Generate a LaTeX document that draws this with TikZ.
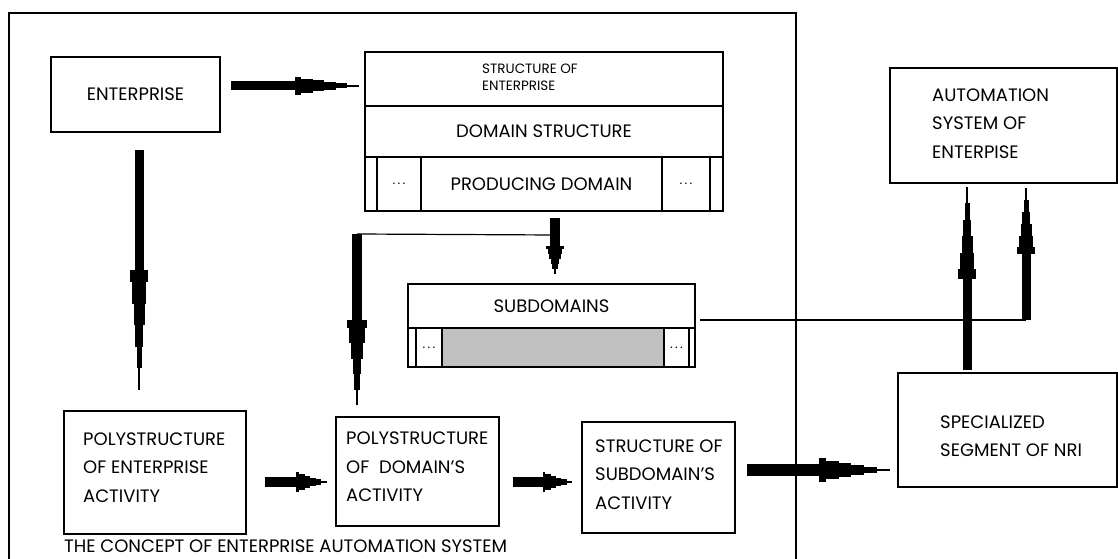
\documentclass[tikz,border=0pt]{standalone}
\usepackage{fontspec}
\setmainfont{Poppins}
\usetikzlibrary{positioning,calc}

% thick stepped arrow: [scale]{from}{to}
\newcommand{\fatarrow}[3][1]{%
  \foreach \s/\e/\w in {0/.5/9,.5/.55/18,.55/.64/14,.64/.73/11,.73/.82/8,.82/.91/5,.91/1/1.5}{%
    \pgfmathsetmacro\lw{#1*\w}
    \draw[line width=\lw pt] ($#2!\s!#3$) -- ($#2!\e!#3$);}%
}

\begin{document}
\begin{tikzpicture}[x=1pt, y=-1pt,
    box/.style = {draw, line width=1.2pt, inner sep=0pt, outer sep=0pt},
    txt/.style = {inner sep=0pt, align=left, font=\fontsize{18}{28.5}\selectfont},
    small/.style = {inner sep=0pt, align=left, font=\fontsize{13.5}{17}\selectfont},
    dots/.style = {font=\fontsize{13}{13}\selectfont}]
  \useasboundingbox (0,0) rectangle (1118,559);
  \clip (0,0) rectangle (1118,559);

  % frame of the concept
  \draw[line width=1.2pt] (9,570) |- (796,13) -- (796,570);
  \node[txt, anchor=west] (cap) at (64,546) {THE CONCEPT OF ENTERPRISE AUTOMATION SYSTEM};

  \node[box, txt, minimum width=169, minimum height=75] (ent) at (135.5,94.5) {ENTERPRISE};

  % structure of enterprise
  \node[box, minimum width=358, minimum height=54] (soe) at (544,79) {};
  \node[small, right=117pt of soe.west, yshift=2pt] (soet) {STRUCTURE OF\\ENTERPRISE};
  \node[box, txt, minimum width=358, minimum height=51] (ds) at (544,131.5) {DOMAIN STRUCTURE};
  \node[box, minimum width=12, minimum height=54] (pl1) at (371,184) {};
  \node[box, dots, minimum width=44, minimum height=54] (pl2) at (399,184) {.\,.\,.};
  \node[box, txt, minimum width=241, minimum height=54] (pd) at (541.5,184) {PRODUCING DOMAIN};
  \node[box, dots, minimum width=48, minimum height=54] (pr2) at (686,184) {.\,.\,.};
  \node[box, minimum width=13, minimum height=54] (pr1) at (716.5,184) {};

  % subdomains
  \node[box, txt, minimum width=287, minimum height=44] (sub) at (551.5,306) {SUBDOMAINS};
  \node[box, minimum width=8, minimum height=39] (sl1) at (412,347.5) {};
  \node[box, dots, minimum width=26, minimum height=39] (sl2) at (429,347.5) {.\,.\,.};
  \node[box, fill={rgb,255:red,192;green,192;blue,192}, minimum width=222, minimum height=39] (sc) at (553,347.5) {};
  \node[box, dots, minimum width=25, minimum height=39] (sr2) at (676.5,347.5) {.\,.\,.};
  \node[box, minimum width=6, minimum height=39] (sr1) at (692,347.5) {};

  % activity boxes
  \node[box, minimum width=182, minimum height=123] (pse) at (155,472.5) {};
  \node[txt, right=19pt of pse.west, yshift=5pt] (pset) {POLYSTRUCTURE\\OF ENTERPRISE\\ACTIVITY};
  \node[box, minimum width=163, minimum height=109] (psd) at (417.5,471.5) {};
  \node[txt, right=10pt of psd.west, yshift=4.5pt] (psdt) {POLYSTRUCTURE\\OF~~DOMAIN'S\\ACTIVITY};
  \node[box, minimum width=153, minimum height=111] (ssa) at (658.5,477.5) {};
  \node[txt, right=13pt of ssa.west, yshift=3pt] (ssat) {STRUCTURE OF\\SUBDOMAIN'S\\ACTIVITY};

  % outside the concept
  \node[box, minimum width=227, minimum height=115] (aut) at (1003.5,125.5) {};
  \node[txt, right=42pt of aut.west, yshift=2pt] (autt) {AUTOMATION\\SYSTEM OF\\ENTERPISE};
  \node[box, minimum width=219, minimum height=114] (nri) at (1007.5,430) {};
  \node[txt, right=42pt of nri.west, yshift=-6pt] (nrit) {SPECIALIZED\\SEGMENT OF NRI};

  % arrow ends
  \coordinate (a1s) at (231,86);   \coordinate (a1e) at (359,86);
  \coordinate (a2s) at (139,150);  \coordinate (a2e) at (139,390);
  \coordinate (a3s) at (555,218);  \coordinate (a3e) at (555,274);
  \coordinate (br) at (555,235);
  \coordinate (a4s) at (357,234);  \coordinate (a4e) at (357,405);
  \coordinate (a5s) at (265,482);  \coordinate (a5e) at (327,482);
  \coordinate (a6s) at (513,482);  \coordinate (a6e) at (572,482);
  \coordinate (a7s) at (747,470);  \coordinate (a7e) at (890,470);
  \coordinate (a8s) at (967,370);  \coordinate (a8e) at (967,187);
  \coordinate (sr) at (700,320);
  \coordinate (a9s) at (1026,320); \coordinate (a9e) at (1026,188);

  \draw[line width=1.2pt] (br) -- (a4s);
  \draw[line width=1.2pt] (sr) -- (a9s);

  \fatarrow{(a1s)}{(a1e)}
  \fatarrow{(a2s)}{(a2e)}
  \fatarrow[1.05]{(a3s)}{(a3e)}
  \fatarrow[1.1]{(a4s)}{(a4e)}
  \fatarrow[1.1]{(a5s)}{(a5e)}
  \fatarrow[1.1]{(a6s)}{(a6e)}
  \fatarrow[1.35]{(a7s)}{(a7e)}
  \fatarrow{(a8s)}{(a8e)}
  \fatarrow{(a9s)}{(a9e)}
\end{tikzpicture}
\end{document}
